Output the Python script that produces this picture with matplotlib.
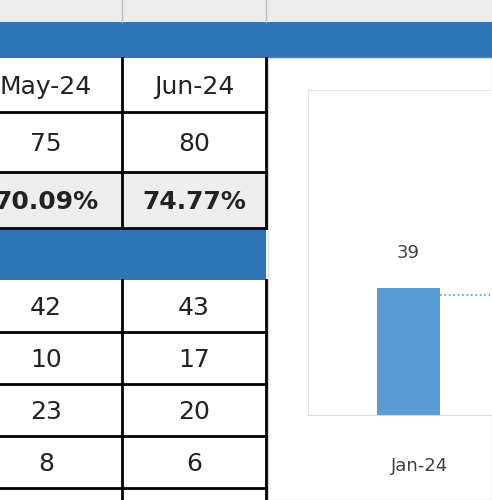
import matplotlib.pyplot as plt
from matplotlib.patches import Rectangle

months = ['May-24', 'Jun-24']
totals = [75, 80]
pcts = ['70.09%', '74.77%']
detail_rows = [[42, 43], [10, 17], [23, 20], [8, 6]]
chart_cats = ['Jan-24']
chart_vals = [39]

W, H = 492, 500
fig = plt.figure(figsize=(W / 100, H / 100), dpi=100)
ax = fig.add_axes([0, 0, 1, 1])
ax.set_xlim(0, W)
ax.set_ylim(H, 0)
ax.axis('off')

blue = '#2E75B6'
col_x = [-30, 122, 266]
font = dict(family='DejaVu Sans', fontsize=18, color='#222222', ha='center', va='center')

# top gray strip and blue band
ax.add_patch(Rectangle((0, 0), W, 22, fc='#EDEDED', ec='none'))
for x in [122, 266]:
    ax.plot([x, x], [0, 22], color='#BBBBBB', lw=1)
ax.add_patch(Rectangle((0, 22), W, 36, fc=blue, ec='none'))

rows = [(58, 112, months, '#FFFFFF', False),
        (112, 172, [str(v) for v in totals], '#FFFFFF', False),
        (172, 228, pcts, '#EDEDED', True)]
ax.add_patch(Rectangle((0, 228), 266, 52, fc=blue, ec='none'))
y = 280
for r in detail_rows:
    rows.append((y, y + 52, [str(v) for v in r], '#FFFFFF', False))
    y += 52

for y0, y1, texts, bg, bold in rows:
    ax.add_patch(Rectangle((0, y0), 266, y1 - y0, fc=bg, ec='none'))
    for i, t in enumerate(texts):
        cx = (col_x[i] + col_x[i + 1]) / 2
        ax.text(cx, (y0 + y1) / 2 + 2, t, fontweight='bold' if bold else 'normal', **font)
    ax.plot([0, 266], [y1, y1], color='black', lw=2)
for x in [122, 266]:
    ax.plot([x, x], [58, 228], color='black', lw=2)
    ax.plot([x, x], [280, H], color='black', lw=2)

# chart panel
ax.add_patch(Rectangle((268, 58), W - 268, H - 58, fc='white', ec='#D9D9D9', lw=1))
cax = fig.add_axes([308 / W, 1 - 415 / H, 244 / W, (415 - 90) / H])
cax.bar([0], chart_vals, width=0.63, color='#5B9BD5')
cax.set_xlim(-1.0, 1.44)
cax.set_ylim(0, 100)
cax.plot([0.32, 0.82], [chart_vals[0] * 0.95] * 2, ls=':', color='#5B9BD5', lw=1.2)
for i, v in enumerate(chart_vals):
    cax.text(i, v + 8, str(v), ha='center', va='bottom', fontsize=13, color='#404040')
cax.set_xticks([0.12])
cax.set_xticklabels(chart_cats, fontsize=13, color='#404040')
cax.tick_params(length=0, pad=30)
cax.set_yticks([])
for s in ['top', 'left', 'right']:
    cax.spines[s].set_color('#E6E6E6')
cax.spines['bottom'].set_color('#D9D9D9')

fig.savefig('out.png', dpi=100)
